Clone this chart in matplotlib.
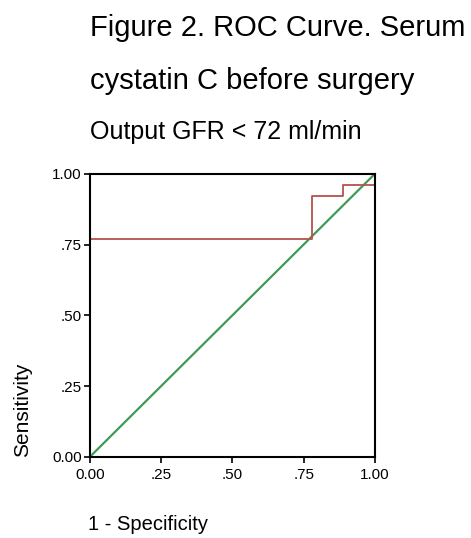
import matplotlib.pyplot as plt

plt.rcParams['font.family'] = ['Liberation Sans', 'DejaVu Sans']

# ROC points (1 - specificity, sensitivity)
fpr = [0.0, 0.0, 0.778, 0.778, 0.889, 0.889, 1.0, 1.0]
tpr = [0.0, 0.769, 0.769, 0.923, 0.923, 0.962, 0.962, 1.0]
ref_line = [0.0, 1.0]

tick_vals = [0.0, 0.25, 0.5, 0.75, 1.0]
tick_labels = ['0.00', '.25', '.50', '.75', '1.00']

fig = plt.figure(figsize=(4.71, 5.38), dpi=100)
ax = fig.add_axes([0.191, 0.151, 0.605, 0.526])

ax.plot(ref_line, ref_line, color='#3f9a58', linewidth=1.6, zorder=2)
ax.plot(fpr, tpr, color='#b5524c', linewidth=1.3, zorder=3)

ax.set_xlim(0, 1)
ax.set_ylim(0, 1)
ax.set_xticks(tick_vals)
ax.set_xticklabels(tick_labels)
ax.set_yticks(tick_vals)
ax.set_yticklabels(tick_labels)
ax.tick_params(direction='out', length=4, width=1.2, labelsize=11, pad=2)
ax.tick_params(axis='x', pad=4)
for s in ax.spines.values():
    s.set_linewidth(1.5)
    s.set_zorder(5)

fig.text(0.191, 0.948, 'Figure 2. ROC Curve. Serum', fontsize=21, va='center', ha='left')
fig.text(0.191, 0.850, 'cystatin C before surgery', fontsize=21, va='center', ha='left')
fig.text(0.191, 0.754, 'Output GFR < 72 ml/min', fontsize=18, va='center', ha='left')
fig.text(0.047, 0.238, 'Sensitivity', fontsize=15, rotation=90, va='center', ha='center')
fig.text(0.187, 0.026, '1 - Specificity', fontsize=14.5, va='center', ha='left')

fig.savefig('out.png', dpi=100)
